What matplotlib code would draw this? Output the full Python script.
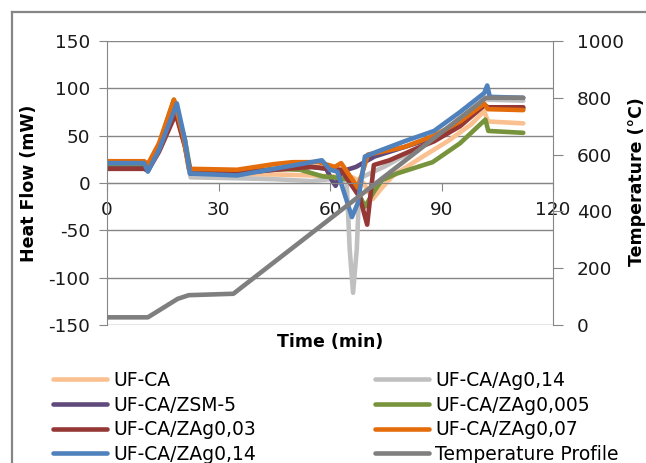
import matplotlib.pyplot as plt
from matplotlib.lines import Line2D

plt.rcParams['font.family'] = ['DejaVu Sans']
plt.rcParams['axes.unicode_minus'] = False

# ---- data ----
labels = ['UF-CA', 'UF-CA/Ag0,14', 'UF-CA/ZSM-5', 'UF-CA/ZAg0,005',
          'UF-CA/ZAg0,03', 'UF-CA/ZAg0,07', 'UF-CA/ZAg0,14']
colors = ['#FAC090', '#C0C0C0', '#604A7B', '#77933C',
          '#953735', '#E46C0A', '#4F81BD']

t_ufca = [0, 10, 11, 14, 18.5, 21, 22.5, 35, 45, 55, 60, 66, 69, 71.5, 74, 77, 85, 92, 98, 101.5, 102.5, 112]
v_ufca = [18, 18, 15, 38, 85, 40, 10, 9, 9, 8, 7, 6, 0, -17, -5, 8, 28, 45, 62, 76, 65, 63]

t_ag014 = [0, 10, 11, 14, 18.5, 21, 22.5, 35, 45, 55, 60, 63, 64.5, 65.3, 66.2, 67.2, 68, 75, 85, 92, 98, 101.5, 102.5, 112]
v_ag014 = [15, 15, 13, 35, 80, 38, 6, 5, 4, 2, 4, 5, 0, -70, -116, -70, 5, 18, 40, 55, 72, 90, 88, 87]

t_zsm5 = [0, 10, 11, 14, 18.5, 21, 22.5, 35, 45, 55, 59, 60.5, 61.5, 63, 67, 72, 80, 88, 95, 101.5, 102.5, 112]
v_zsm5 = [17, 17, 14, 35, 80, 40, 10, 10, 14, 17, 15, 3, -3, 12, 17, 28, 38, 48, 65, 82, 80, 79]

t_zag0005 = [0, 10, 11, 14, 18, 21, 22.5, 35, 45, 52, 58, 61, 66, 69.4, 72, 74, 78, 87.6, 95, 101.8, 102.6, 112]
v_zag0005 = [20, 20, 17, 40, 88, 45, 12, 11, 15, 14, 7, 6, 3, -25, -8, 3, 10, 22, 42, 67, 55, 53]

t_zag003 = [0, 10, 11, 14, 18.5, 21, 22.5, 35, 45, 55, 60, 63, 68, 70, 71.8, 76, 83, 88, 95, 101.5, 102.5, 112]
v_zag003 = [15, 15, 13, 33, 73, 38, 10, 11, 14, 17, 15, 14, -15, -44, 19, 24, 36, 44, 60, 82, 80, 80]

t_zag007 = [0, 10, 11, 14, 18, 20.5, 22, 35, 45, 50, 57, 61.3, 63, 67.5, 70.2, 80, 88, 95, 101.5, 102.5, 112]
v_zag007 = [23, 23, 20, 42, 88, 50, 15, 14, 20, 22, 22, 17, 21, -5, 30, 38, 50, 65, 84, 78, 77]

t_zag014 = [0, 10, 11, 14, 18.8, 21, 22.3, 35, 45, 57.8, 60, 62, 65.9, 67.5, 69.4, 72.6, 80, 88, 95, 101.5, 102.3, 103, 112]
v_zag014 = [21, 21, 12, 35, 84, 45, 10, 8, 15, 24, 14, 12, -36, -21, 28, 33, 44, 55, 75, 95, 103, 91, 90]

t_temp = [0, 11, 19, 22, 34, 102, 112]
temp = [27, 27, 92, 105, 110, 800, 800]

times = [t_ufca, t_ag014, t_zsm5, t_zag0005, t_zag003, t_zag007, t_zag014]
values = [v_ufca, v_ag014, v_zsm5, v_zag0005, v_zag003, v_zag007, v_zag014]

grid_c = '#868686'
W, H = 646, 463

fig = plt.figure(figsize=(W / 100, H / 100), dpi=100)

# outer chart border: only left and top edges fall inside the picture
bx, by = 12 / W, 1 - 12 / H
fig.add_artist(Line2D([bx, bx], [0.0, by], transform=fig.transFigure,
                      color=grid_c, lw=1.6, solid_capstyle='projecting'))
fig.add_artist(Line2D([bx, 1.0], [by, by], transform=fig.transFigure,
                      color=grid_c, lw=1.6, solid_capstyle='projecting'))

ax = fig.add_axes([107 / W, 1 - 325 / H, 446 / W, 284 / H])
ax.set_xlim(0, 120)
ax.set_ylim(-150, 150)
ax.set_xticks([0, 30, 60, 90, 120])
ax.set_yticks(range(-150, 151, 50))
ax.grid(axis='y', color=grid_c, lw=1)
ax.set_axisbelow(True)
for s in ['top', 'right']:
    ax.spines[s].set_visible(False)
ax.spines['bottom'].set_position(('data', 0))
ax.spines['bottom'].set_color(grid_c)
ax.spines['left'].set_color(grid_c)
ax.tick_params(axis='y', direction='out', length=6, color=grid_c,
               labelsize=13.3, pad=6, labelcolor='#1a1a1a')
ax.tick_params(axis='x', direction='out', length=6, color=grid_c,
               labelsize=13.3, pad=7, labelcolor='#1a1a1a')

lines = []
for t, v, lab, c in zip(times, values, labels, colors):
    ln, = ax.plot(t, v, color=c, lw=3.3, label=lab,
                  solid_capstyle='round', solid_joinstyle='round')
    lines.append(ln)

ax2 = ax.twinx()
ax2.set_ylim(0, 1000)
ax2.set_yticks(range(0, 1001, 200))
for s in ['top', 'left', 'bottom']:
    ax2.spines[s].set_visible(False)
ax2.spines['right'].set_color(grid_c)
ax2.tick_params(axis='y', direction='out', length=7, color=grid_c,
                labelsize=13.3, pad=10, labelcolor='#1a1a1a')
tl, = ax2.plot(t_temp, temp, color='#7F7F7F', lw=3.3, label='Temperature Profile',
               solid_capstyle='round', solid_joinstyle='round')

fig.text(29.5 / W, 1 - 183 / H, 'Heat Flow (mW)', rotation=90, ha='center',
         va='center', fontsize=12.5, fontweight='bold')
fig.text(637 / W, 1 - 182 / H, 'Temperature (°C)', rotation=90, ha='center',
         va='center', fontsize=12.5, fontweight='bold')
fig.text(330 / W, 1 - 342 / H, 'Time (min)', ha='center', va='center',
         fontsize=12.5, fontweight='bold')

# legend: two columns, row-major order as in the original
left_h = [lines[0], lines[2], lines[4], lines[6]]
right_h = [lines[1], lines[3], lines[5], tl]
for hs, x0 in [(left_h, 53), (right_h, 375)]:
    fig.legend(handles=hs, loc='upper left', bbox_to_anchor=(x0 / W, 1 - 371 / H),
               frameon=False, fontsize=13.5, handlelength=2.9, handletextpad=0.3,
               labelspacing=0.3, borderaxespad=0, borderpad=0)

fig.savefig('out.png', dpi=100)
